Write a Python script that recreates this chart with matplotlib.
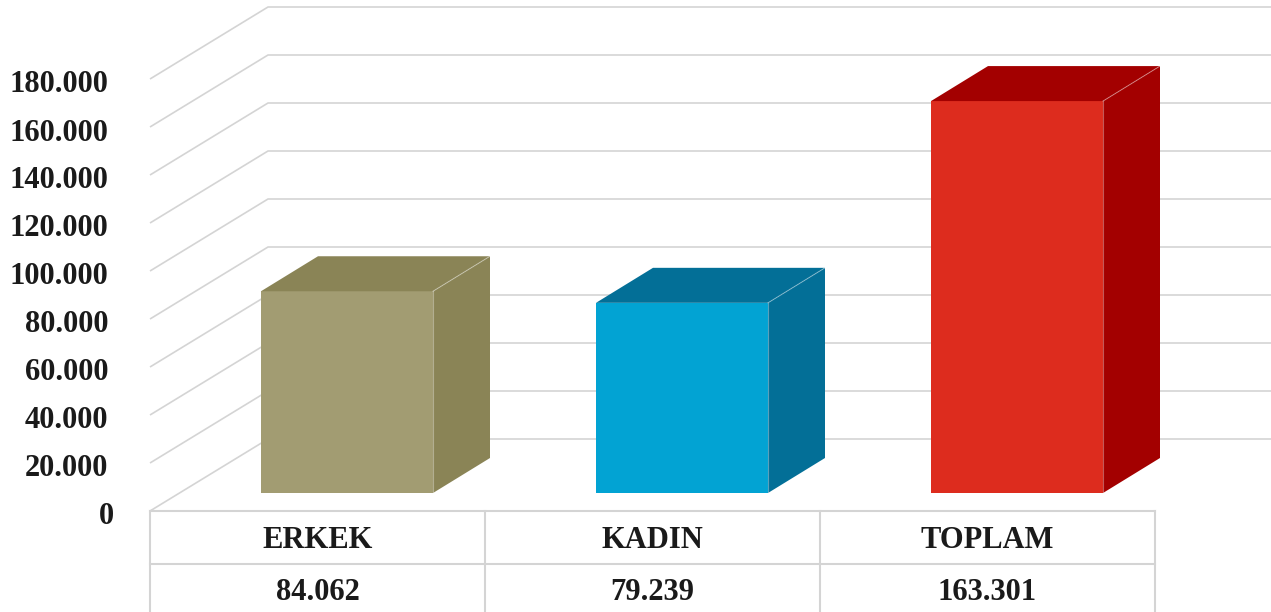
import matplotlib.pyplot as plt
from matplotlib.patches import Polygon

categories = ["ERKEK", "KADIN", "TOPLAM"]
values = [84062, 79239, 163301]
front_colors = ["#a29c72", "#02a3d3", "#dd2c1e"]
side_colors = ["#8a8456", "#036f97", "#a30000"]
ticks = list(range(0, 180001, 20000))

# pixel geometry -> data units (1 category = 335 px, 180000 = 432 px)
px_x = 335.0
px_y = 432.0 / 180000
bar_w = 172 / px_x
depth = (57 / px_x, 35 / px_y)          # bar depth vector
floor = (-29.5 / px_x, -18 / px_y)      # front edge of floor relative to bars
wall = (88.5 / px_x, 54 / px_y)         # back wall relative to bars

def fmt(v):
    return f"{v:,}".replace(",", ".")

plt.rcParams['font.family'] = ['Liberation Serif', 'DejaVu Serif']
fig = plt.figure(figsize=(12.71, 6.12), dpi=100)
ax = fig.add_axes([0, 0, 1, 1])
ax.set_xlim(-347 / px_x, (1271 - 347) / px_x)
ax.set_ylim(-119 / px_y, (612 - 119) / px_y)
ax.axis("off")

grid_c = "#d4d4d4"
x_floor_left = -0.5 + floor[0]
x_wall_left = -0.5 + wall[0]
x_right = ax.get_xlim()[1]
for v in ticks:
    ax.plot([x_floor_left, x_wall_left, x_right],
            [v + floor[1], v + wall[1], v + wall[1]],
            color=grid_c, lw=1.2, zorder=1, solid_capstyle="butt")
    xl = -0.695 if v == 0 else -0.713
    ax.text(xl, v + floor[1] - 2500, fmt(v), ha="right", va="center",
            fontsize=22, fontweight="bold", color="#1a1a1a")

# bars: front faces
xs = list(range(len(categories)))
ax.bar(xs, values, width=bar_w, color=front_colors, zorder=3, linewidth=0)

# side and top faces
for x, v, sc in zip(xs, values, side_colors):
    l, r = x - bar_w / 2, x + bar_w / 2
    dx, dy = depth
    side = Polygon([(r, 0), (r + dx, dy), (r + dx, v + dy), (r, v)],
                   closed=True, facecolor=sc, edgecolor="none", zorder=3)
    top = Polygon([(l, v), (r, v), (r + dx, v + dy), (l + dx, v + dy)],
                  closed=True, facecolor=sc, edgecolor="none", zorder=3)
    ax.add_patch(side)
    ax.add_patch(top)
    ax.plot([r, r], [0, v], color="#ffffff", alpha=0.35, lw=0.8, zorder=4)
    ax.plot([r, r + dx], [v, v + dy], color="#ffffff", alpha=0.35, lw=0.8, zorder=4)

# data table below
y_top = floor[1]
y_mid = (48 - 119) / px_y
y_bot = ax.get_ylim()[0]
x_l = -0.5 + floor[0]
x_r = len(categories) - 0.5 + floor[0]
ax.plot([x_l, x_r], [y_top, y_top], color=grid_c, lw=1.5, zorder=2)
ax.plot([x_l, x_r], [y_mid, y_mid], color=grid_c, lw=1.5, zorder=2)
for i in range(len(categories) + 1):
    xb = i - 0.5 + floor[0]
    ax.plot([xb, xb], [y_top, y_bot], color=grid_c, lw=1.5, zorder=2)
for x, c, v in zip(xs, categories, values):
    ax.text(x + floor[0], (71 - 119) / px_y, c, ha="center", va="center",
            fontsize=22, fontweight="bold", color="#1a1a1a")
    ax.text(x + floor[0], (20 - 119) / px_y, fmt(v), ha="center", va="center",
            fontsize=22, fontweight="bold", color="#1a1a1a")

fig.savefig("out.png", dpi=100, facecolor="white")
